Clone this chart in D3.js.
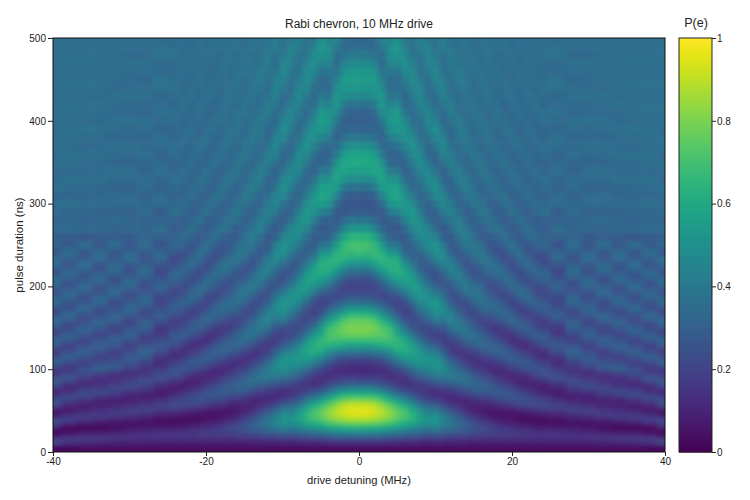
<!DOCTYPE html>
<html><head><meta charset="utf-8">
<script src="https://cdn.jsdelivr.net/npm/d3@7"></script>
<style>html,body{margin:0;background:#fff}svg{display:block}text{font-family:"Liberation Sans",Arial,sans-serif;fill:#222}</style>
</head><body><svg id="c" width="750" height="500"></svg>
<script>
const titleText="Rabi chevron, 10 MHz drive", xLabel="drive detuning (MHz)", yLabel="pulse duration (ns)", barLabel="P(e)";
const xTicks=[-40,-20,0,20,40], yTicks=[0,100,200,300,400,500], barTicks=[0,0.2,0.4,0.6,0.8,1];
const durationNs=[0,5,10,15,20,25,30,35,40,45, 50,55,60,65,70,75,80,85,90,95, 100,105,110,115,120,125,130,135,140,145, 150,155,160,165,170,175,180,185,190,195, 200,205,210,215,220,225,230,235,240,245, 250,
260,270,280,290,300,310,320,330,340,350,360,370,380,390,400,410,420,430,440,450,460,470,480,490,500];
// P(e) in percent. Typed by hand as estimates, not read cell by cell: fringe positions and brightness
// were judged from the picture, with the Rabi fringe spacing as a guide. One list per detuning
// magnitude; the picture is taken as left-right symmetric and these lists are mirrored when drawn.
const pe0=[3,4,11,22,36,50,65,78,88,94, 95,93,87,76,63,50,36,25,17,13, 12,14,19,27,37,48,59,68,75,79, 80,78,74,67,58,48,38,30,24,21, 20,22,26,32,39,47,55,62,67,70, 70,
64,52,38,29,26,29,38,49,57,61,57,49,39,32,30,32,38,47,52,55,52,47,40,35,33];
const pe1=[3,4,11,22,36,50,65,78,88,94, 95,93,87,76,64,50,37,26,18,14, 12,14,19,26,36,47,58,67,75,79, 80,78,75,68,59,49,39,31,25,21, 20,22,25,31,38,46,54,61,66,69, 70,
65,53,40,30,26,28,37,48,56,60,58,50,40,33,30,31,37,46,52,54,53,47,41,35,33];
const pe2=[3,4,11,22,35,50,64,76,86,91, 93,91,84,74,62,48,35,25,18,14, 13,15,20,28,38,49,60,68,74,77, 78,76,71,63,54,44,35,28,23,21, 21,24,29,36,44,52,59,64,67,67, 66,
58,46,35,28,27,31,41,51,58,59,55,46,37,32,31,34,41,49,53,54,51,45,38,34,34];
const pe3=[3,4,11,21,34,48,62,74,83,88, 88,85,78,68,56,43,31,22,16,14, 14,17,23,31,41,52,62,69,73,74, 73,69,62,54,45,36,29,24,22,23, 27,32,39,47,54,60,64,65,64,60, 54,
43,33,28,28,35,45,54,58,57,50,41,34,31,33,40,48,53,53,49,43,37,34,35,40,46];
const pe4=[3,4,10,20,32,46,59,71,79,83, 82,78,70,59,47,35,25,18,14,14, 17,22,29,38,47,57,64,69,71,70, 67,61,53,44,36,29,24,23,24,29, 35,42,50,56,61,63,63,60,54,47, 40,
31,28,31,40,50,56,56,50,41,34,31,34,42,49,52,50,44,38,34,35,40,46,49,48,44];
const pe5=[3,4,10,19,30,43,55,66,73,76, 75,70,61,50,38,27,19,15,14,17, 22,30,39,48,56,62,65,65,62,56, 54,46,37,29,25,21,20,22,27,34, 42,50,56,60,63,63,62,58,52,45, 39,
30,27,32,43,54,59,57,50,40,32,32,37,45,52,55,54,48,41,35,34,38,45,51,53,51];
const pe6=[3,4,9,18,28,40,52,62,69,71, 70,63,54,43,31,22,16,14,15,20, 28,37,46,54,60,62,62,60,54,46, 38,31,25,21,20,21,24,29,36,43, 50,55,58,59,57,53,47,41,35,31, 29,
28,34,43,51,54,51,44,36,31,32,38,44,50,51,47,40,34,33,36,42,47,50,48,43,38];
const pe7=[3,4,9,17,27,38,49,58,63,64, 60,53,44,34,25,19,16,17,21,28, 36,44,51,55,57,57,54,48,41,34, 28,24,22,22,24,28,34,41,47,52, 55,56,55,52,47,41,36,32,30,30, 31,
38,46,52,53,48,40,34,32,35,42,48,51,48,42,36,34,36,41,46,48,47,43,38,36,37];
const pe8=[3,4,9,16,25,35,44,52,56,55, 50,42,33,25,19,17,17,21,27,35, 42,48,52,53,52,48,42,35,29,25, 23,23,25,29,35,41,46,50,52,52, 50,47,42,37,33,30,29,30,32,37, 41,
47,50,48,42,35,32,34,40,46,49,47,42,36,34,36,41,45,47,45,41,37,36,38,42,45];
const pe9=[3,4,8,15,24,33,42,48,50,48, 42,35,27,20,16,16,19,25,32,39, 45,49,51,50,46,40,34,28,24,22, 23,26,31,37,42,47,49,50,49,46, 41,36,32,29,27,28,31,35,40,44, 47,
48,45,37,31,31,36,43,47,46,40,34,33,36,42,46,46,42,37,35,36,40,44,45,44,39];
const pe10=[3,4,9,16,25,35,44,50,52,49, 42,33,24,16,13,14,20,28,36,43, 48,52,52,49,42,35,28,23,20,20, 25,32,40,46,51,53,53,49,43,37, 31,27,24,25,28,33,39,45,49,51, 51,
45,35,29,31,39,47,50,45,37,32,33,39,46,49,45,39,34,35,40,45,47,44,40,36,36];
const pe11=[3,4,8,15,23,32,40,44,44,40, 33,25,18,14,14,17,23,31,38,44, 47,47,44,38,32,26,21,19,19,22, 27,33,39,44,47,47,45,41,36,31, 27,27,28,31,36,41,45,47,47,45, 41,
31,28,33,41,46,45,38,33,31,37,44,47,44,38,33,34,39,44,45,42,37,35,37,42,44];
const pe12=[3,4,8,14,22,30,36,39,38,33, 26,19,14,12,14,19,26,33,38,41, 40,37,31,25,20,17,17,20,25,31, 37,42,44,44,41,36,31,27,25,25, 27,31,36,41,44,44,42,38,33,29, 28,
28,33,40,44,41,35,31,33,39,43,42,37,33,33,38,42,42,38,35,35,38,41,42,39,36];
const pe13=[3,4,8,14,21,28,33,34,31,26, 20,15,11,12,16,22,28,34,37,37, 34,29,24,19,16,16,19,24,30,36, 40,41,39,35,31,27,24,24,26,30, 35,39,42,42,40,36,32,29,28,29, 31,
37,43,42,37,32,32,37,42,42,38,34,34,38,41,41,38,35,35,38,41,41,38,36,36,38];
const pe14=[3,4,8,13,20,26,29,29,25,19, 14,10,10,13,19,26,32,35,35,32, 27,22,18,15,16,20,26,32,36,38, 37,34,30,26,23,23,24,28,33,37, 40,40,37,33,29,26,26,28,32,36, 40,
42,39,34,30,33,38,42,40,36,33,35,39,41,39,36,34,36,39,40,38,36,36,37,39,39];
const pe15=[3,4,7,13,19,24,26,24,19,14, 10,9,11,16,23,29,32,33,30,25, 20,16,14,15,19,25,30,34,36,35, 31,27,24,22,23,26,31,35,38,38, 36,32,28,26,25,27,31,35,38,39, 39,
37,32,30,33,38,40,37,33,33,37,40,38,35,33,35,38,39,37,34,35,38,39,37,35,35];
const pe16=[3,4,7,12,18,22,23,20,14,10, 8,8,12,18,25,29,31,29,25,21, 18,14,15,19,24,29,33,33,32,28, 24,21,21,24,29,33,36,37,37,35, 34,30,27,27,29,33,37,38,39,38, 35,
29,29,35,40,38,33,31,35,39,39,36,33,35,38,39,37,34,35,37,39,37,35,35,37,38];
const pe17=[3,4,7,12,17,20,20,16,11,7, 6,8,13,19,25,28,29,26,22,17, 13,13,16,21,27,30,31,30,26,22, 19,19,22,26,31,34,35,33,30,26, 24,24,27,31,35,37,38,36,32,29, 27,
29,34,38,36,31,32,36,39,36,33,33,36,39,37,34,34,37,39,37,34,35,37,38,37,35];
const pe18=[3,4,7,12,17,19,17,13,8,6, 6,11,17,23,27,28,26,21,16,12, 12,15,20,26,30,31,29,25,20,17, 17,20,25,30,33,34,32,29,25,23, 24,27,31,35,36,36,33,29,26,25, 27,
32,37,34,30,31,36,38,34,31,34,37,37,33,33,36,38,36,34,34,36,38,36,34,35,37];
const pe19=[3,4,7,12,16,18,15,10,6,5, 7,12,19,24,27,26,22,17,13,11, 13,18,24,28,30,28,24,19,16,16, 19,24,29,32,33,31,27,23,22,24, 28,32,35,35,33,29,26,24,25,28, 32,
36,34,29,31,36,36,32,31,34,38,35,32,33,37,37,34,32,35,37,37,34,34,36,38,36];
const pe20=[3,4,7,12,16,17,14,9,6,5, 8,14,20,25,26,23,18,13,11,12, 17,23,28,29,27,22,17,14,15,19, 25,30,32,31,27,23,21,22,25,30, 34,35,33,29,25,23,24,27,32,35, 36,
31,28,31,37,34,30,32,36,37,33,32,35,37,36,33,33,36,37,35,33,35,37,36,34,35];
const pe21=[3,4,7,12,16,16,12,7,4,5, 10,17,23,25,23,18,13,10,10,14, 21,26,28,26,21,16,14,15,20,26, 30,31,28,24,21,21,24,29,33,34, 33,29,25,23,24,28,32,35,36,34, 30,
28,32,36,33,30,32,36,36,32,32,35,37,34,32,35,37,35,33,35,37,36,34,35,36,36];
const pe22=[3,4,7,12,15,15,11,6,4,6, 11,18,23,23,20,15,11,9,11,17, 23,27,27,23,18,14,14,18,24,28, 29,27,23,20,20,24,29,33,33,31, 27,24,24,27,31,34,35,32,28,26, 26,
32,36,33,29,32,37,34,31,33,36,35,33,34,37,35,33,34,37,36,34,35,36,36,34,35];
const pe23=[3,4,7,12,15,13,9,5,4,7, 13,19,22,21,16,11,9,11,16,22, 26,25,21,16,13,14,19,24,28,28, 25,20,18,20,24,29,31,30,26,23, 22,25,29,32,33,31,27,24,24,28, 32,
34,31,29,33,35,32,31,34,36,33,32,35,36,34,33,35,37,35,33,35,36,35,34,35,37];
const pe24=[3,4,7,12,15,13,8,4,4,9, 15,20,21,18,12,9,9,14,20,25, 25,22,17,13,14,18,24,27,28,25, 20,18,19,24,28,30,28,25,22,22, 25,29,32,33,30,26,23,23,26,30, 33,
31,29,31,36,33,31,34,36,33,32,35,36,33,33,36,36,33,35,37,35,34,35,37,35,34];
const pe26=[3,4,7,12,15,13,8,4,5,10, 16,19,17,12,8,9,13,19,23,22, 18,14,13,16,22,26,27,24,19,16, 17,21,26,29,27,24,21,21,24,28, 31,30,26,23,22,25,29,33,33,29, 26,
31,35,31,29,35,35,31,33,36,34,32,35,36,33,34,36,35,33,36,37,34,34,37,36,34];
const pe28=[3,4,8,12,14,12,7,5,8,14, 18,17,13,10,10,15,20,23,20,16, 16,17,22,28,31,29,24,20,20,25, 30,31,27,23,23,27,31,33,30,26, 24,25,29,33,34,31,27,26,28,32, 35,
33,32,31,34,33,31,35,35,32,33,36,34,33,35,36,33,34,36,35,33,35,36,34,35,36];
const pe30=[3,4,8,13,14,10,6,5,10,16, 18,15,10,9,12,18,22,20,15,13, 18,23,28,28,24,20,21,25,30,30, 26,22,22,27,31,32,29,25,24,27, 32,34,31,27,25,27,32,35,33,29, 27,
28,33,33,31,34,34,31,35,35,32,34,36,33,34,36,34,34,36,35,34,35,36,34,35,36];
const pe32=[3,4,8,14,13,8,4,6,12,17, 16,11,9,11,17,21,20,15,13,15, 26,28,25,21,19,22,28,30,27,22, 21,25,30,32,28,24,23,27,32,33, 30,26,25,29,34,34,30,27,27,31, 35,
30,32,34,31,34,35,32,34,36,33,34,36,33,35,36,34,35,36,34,35,36,35,35,36,35];
const pe34=[3,4,9,15,13,7,3,7,14,17, 14,9,9,14,20,21,16,13,14,20, 29,27,22,20,24,29,30,26,22,23, 28,32,29,25,23,27,32,33,29,25, 26,31,34,31,27,26,30,34,35,31, 27,
29,33,33,32,35,33,33,36,34,34,36,34,35,36,34,35,37,35,35,36,35,35,36,35,36];
const pe36=[3,4,10,16,13,6,3,9,16,17, 11,8,11,18,22,19,14,13,18,23, 25,20,20,25,30,28,23,21,25,30, 31,26,23,25,31,33,28,25,26,31, 34,31,27,26,31,35,33,28,27,31, 35,
28,33,32,33,35,33,34,36,34,35,36,34,35,37,35,35,36,35,36,36,35,36,36,35,36];
const pe38=[3,3,12,17,11,4,4,13,19,14, 8,9,16,22,19,13,13,20,25,20, 17,19,26,30,26,20,21,27,31,27, 23,23,29,33,29,24,25,30,33,31, 26,26,31,34,31,27,27,31,35,33, 28,
29,34,33,33,36,33,35,36,34,36,36,35,36,36,35,36,36,35,36,36,35,36,36,35,36];
const pe40=[3,3,18,19,6,3,11,21,19,8, 7,17,25,21,13,13,22,28,23,16, 17,26,30,24,18,21,30,32,26,20, 25,32,33,26,22,27,34,33,27,25, 30,35,33,27,27,32,36,33,28,28, 33,
30,35,32,35,35,33,36,34,35,36,34,36,35,35,36,35,36,35,36,36,35,36,35,36,36];
const detuningMHz=[0,1,2,3,4,5,6,7,8,9,10,11,12,13,14,15,16,17,18,19,20,21,22,23,24,26,28,30,32,34,36,38,40];
const peByDetuning=[pe0,pe1,pe2,pe3,pe4,pe5,pe6,pe7,pe8,pe9,pe10,pe11,pe12,pe13,pe14,pe15,pe16,pe17,pe18,pe19,pe20,pe21,pe22,pe23,pe24,pe26,pe28,pe30,pe32,pe34,pe36,pe38,pe40];

const svg=d3.select("#c");
const L=53,R=665,T=38,B=452,BL=679,BR=712;
const x=d3.scaleLinear().domain([-40,40]).range([L,R]);
const y=d3.scaleLinear().domain([0,500]).range([B,T]);
const color=d3.scaleSequential(d3.interpolateViridis).domain([0,1]);
const defs=svg.append("defs");
defs.append("clipPath").attr("id","plot").append("rect").attr("x",L).attr("y",T).attr("width",R-L).attr("height",B-T);
defs.append("filter").attr("id","soft").attr("filterUnits","userSpaceOnUse").attr("x",L-30).attr("y",T-30).attr("width",R-L+60).attr("height",B-T+60)
  .attr("color-interpolation-filters","sRGB").append("feGaussianBlur").attr("stdDeviation","2.4 1.4");
function edges(v){const e=[];for(let i=0;i<v.length;i++){e.push([i?(v[i-1]+v[i])/2:v[0]-20, i<v.length-1?(v[i]+v[i+1])/2:v[i]+20]);}return e;}
const tE=edges(durationNs), dE=edges(detuningMHz); dE[0][0]=0;
const cells=[];
peByDetuning.forEach((col,i)=>col.forEach((v,j)=>{
  cells.push({a:dE[i][0],b:dE[i][1],t0:tE[j][0],t1:tE[j][1],v:v/100});
  cells.push({a:-dE[i][1],b:-dE[i][0],t0:tE[j][0],t1:tE[j][1],v:v/100});
}));
svg.append("g").attr("clip-path","url(#plot)").append("g").attr("filter","url(#soft)")
  .selectAll("rect").data(cells).join("rect")
  .attr("x",d=>x(d.a)).attr("width",d=>x(d.b)-x(d.a)+0.5)
  .attr("y",d=>y(d.t1)-0.3).attr("height",d=>y(d.t0)-y(d.t1)+0.6)
  .attr("fill",d=>color(d.v));
svg.append("rect").attr("x",L).attr("y",T).attr("width",R-L).attr("height",B-T).attr("fill","none").attr("stroke","#111");
const fmt=d=>d3.format("d")(d).replace("\u2212","-");
const gx=svg.append("g").attr("transform",`translate(0,${B})`).call(d3.axisBottom(x).tickValues(xTicks).tickSize(4).tickPadding(2).tickFormat(fmt));
const gy=svg.append("g").attr("transform",`translate(${L},0)`).call(d3.axisLeft(y).tickValues(yTicks).tickSize(5).tickPadding(2).tickFormat(fmt));
[gx,gy].forEach(g=>{g.select(".domain").remove();g.selectAll("text").attr("font-size",10).attr("font-family",'"Liberation Sans"');g.selectAll("line").attr("stroke","#222");});
svg.append("text").attr("x",(L+R)/2).attr("y",28).attr("text-anchor","middle").attr("font-size",12).text(titleText);
svg.append("text").attr("x",(L+R)/2).attr("y",484).attr("text-anchor","middle").attr("font-size",11.2).text(xLabel);
svg.append("text").attr("transform",`translate(23,${(T+B)/2}) rotate(-90)`).attr("text-anchor","middle").attr("font-size",11.5).text(yLabel);
// colour bar
const cb=d3.scaleLinear().domain([0,1]).range([B,T]);
const barSteps=d3.range(0,1,1/207);
svg.append("g").selectAll("rect").data(barSteps).join("rect")
  .attr("x",BL).attr("width",BR-BL).attr("y",d=>cb(d+1/207)).attr("height",(B-T)/207+0.6).attr("fill",d=>color(d+0.5/207));
svg.append("rect").attr("x",BL).attr("y",T).attr("width",BR-BL).attr("height",B-T).attr("fill","none").attr("stroke","#222");
const gb=svg.append("g").attr("transform",`translate(${BR},0)`).call(d3.axisRight(cb).tickValues(barTicks).tickSize(4).tickPadding(1).tickFormat(d=>String(d)));
gb.select(".domain").remove();gb.selectAll("text").attr("font-size",10).attr("font-family",'"Liberation Sans"');gb.selectAll("line").attr("stroke","#222");
svg.append("text").attr("x",696).attr("y",27).attr("text-anchor","middle").attr("font-size",12.5).text(barLabel);
</script></body></html>
